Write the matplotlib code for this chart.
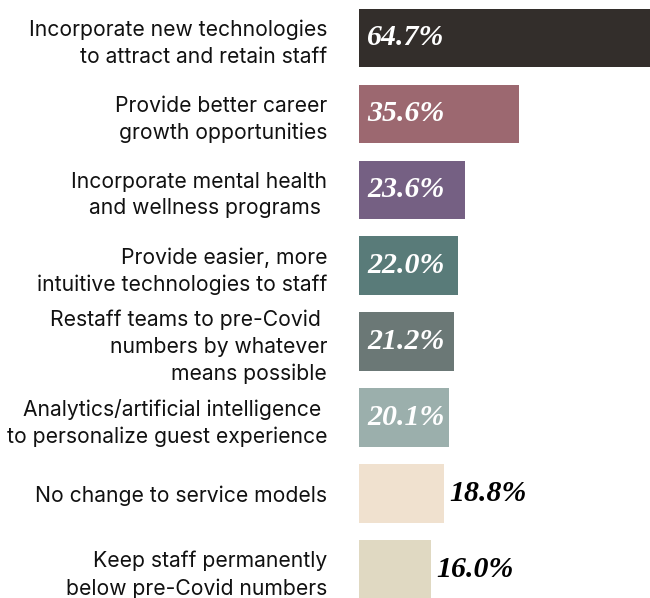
import numpy as np
import matplotlib.pyplot as plt

# Survey answers, top to bottom
labels = [
    "Incorporate new technologies\nto attract and retain staff",
    "Provide better career\ngrowth opportunities",
    "Incorporate mental health\nand wellness programs ",
    "Provide easier, more\nintuitive technologies to staff",
    "Restaff teams to pre-Covid \nnumbers by whatever\nmeans possible",
    "Analytics/artificial intelligence \nto personalize guest experience",
    "No change to service models",
    "Keep staff permanently\nbelow pre-Covid numbers",
]
values = [64.7, 35.6, 23.6, 22.0, 21.2, 20.1, 18.8, 16.0]
colors = ["#332e2b", "#9c6870", "#756083", "#597b79",
          "#6b7876", "#9bafac", "#f0e1cf", "#e0d9c2"]
inside = [True, True, True, True, True, True, False, False]

fig = plt.figure(figsize=(6.5, 5.98), dpi=100)
ax = fig.add_axes([359 / 650, 0, 291 / 650, 1])

y = np.arange(len(values))
ax.barh(y, values, height=0.77, color=colors)
ax.set_xlim(0, 64.7)
ax.set_ylim(7.378, -0.5)

# percentage labels
for i, v in enumerate(values):
    txt = f"{v:.1f}%"
    if inside[i]:
        ax.annotate(txt, (0, i), xytext=(6, 0), textcoords="offset points",
                    ha="left", va="center", color="white", fontsize=21.5,
                    family="Liberation Serif", weight="bold", style="italic")
    else:
        ax.annotate(txt, (v, i), xytext=(4, 0), textcoords="offset points",
                    ha="left", va="center", color="black", fontsize=21.5,
                    family="Liberation Serif", weight="bold", style="italic")

ax.set_yticks(y)
ax.set_yticklabels(labels, family="Inter", fontsize=15.2, color="#111111",
                   linespacing=1.42)
ax.tick_params(axis="y", length=0, pad=23)
ax.set_xticks([])
for s in ax.spines.values():
    s.set_visible(False)

fig.savefig("out.png", dpi=100)
